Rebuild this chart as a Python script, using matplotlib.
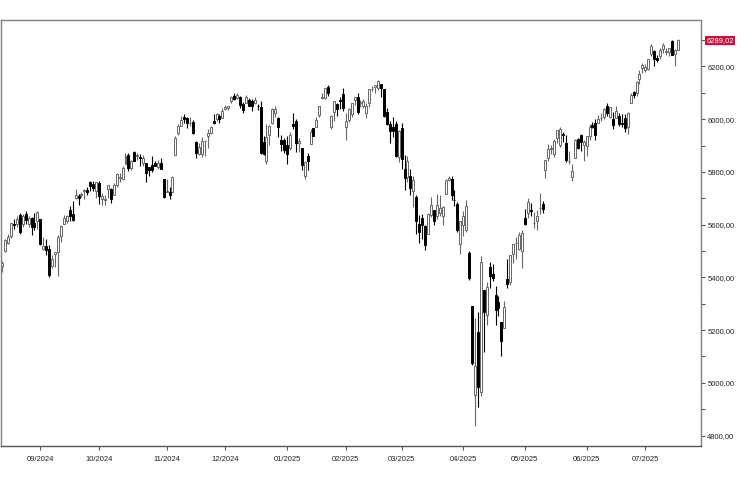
import matplotlib
matplotlib.use("Agg")
import matplotlib.pyplot as plt
import matplotlib.transforms as mtransforms
import numpy as np
import pandas as pd

plt.rcParams['font.family'] = ['Liberation Sans', 'DejaVu Sans']

holidays = ['2024-09-02', '2024-11-28', '2024-12-25', '2025-01-01', '2025-01-09',
            '2025-01-20', '2025-02-17', '2025-04-18', '2025-05-26', '2025-06-19',
            '2025-07-04']

opens = [5376, 5442, 5501, 5530, 5557, 5602, 5603, 5637, 5603, 5639, 5602, 5624, 5607, 5613,
         5623, 5507, 5520, 5507, 5442, 5490, 5496, 5557, 5603, 5615, 5655, 5641, 5703, 5709, 5711, 5727, 5733, 5762, 5755, 5727,
         5758, 5699, 5695, 5737, 5737, 5714, 5751, 5778, 5775, 5829, 5866, 5816, 5875, 5860, 5857, 5833, 5834, 5817, 5827, 5833, 5818, 5833, 5775,
         5723, 5724, 5722, 5864, 5947, 5976, 6008, 6003, 5985, 5990, 5912, 5869, 5868, 5917, 5935, 5949, 5993, 6000, 6014, 6003,
         6040, 6043, 6069, 6089, 6082, 6083, 6057, 6060, 6074, 6068, 6063, 6052, 6048, 5913, 5842, 5940, 5984, 6024, 6006, 5920, 5920,
         5903, 5891, 5982, 5993, 5910, 5890, 5783, 5859, 5905, 5965, 5970, 6015, 6081, 6080, 6121, 5970, 6026, 6058, 6073, 6096,
         5970, 5998, 6021, 6072, 6083, 6060, 6049, 6025, 6061, 6115, 6121, 6118, 6134, 6114, 6027, 5983, 5971, 5982, 5857,
         5968, 5812, 5782, 5785, 5726, 5706, 5603, 5624, 5594, 5563, 5635, 5655, 5632, 5646, 5631, 5718, 5771, 5772, 5695, 5679, 5527,
         5597, 5580, 5492, 5292, 4953, 5194, 4965, 5353, 5256, 5441, 5412, 5335, 5306, 5232, 5207, 5395, 5381, 5489, 5529, 5508, 5499,
         5625, 5645, 5655, 5605, 5614, 5663, 5680, 5808, 5854, 5886, 5869, 5929, 5903, 5945, 5910, 5841, 5781, 5854, 5925, 5939, 5903,
         5897, 5938, 5979, 5985, 5987, 6005, 6009, 6050, 6010, 6000, 6004, 6012, 5985, 6004, 5970, 6062, 6104, 6101, 6151, 6193,
         6187, 6190, 6248, 6259, 6233, 6240, 6265, 6255, 6256, 6295, 6249, 6264]
highs = [5436, 5464, 5546, 5563, 5608, 5621, 5632, 5644, 5642, 5651, 5631, 5628, 5646, 5651,
         5623, 5552, 5546, 5523, 5484, 5497, 5560, 5600, 5637, 5637, 5670, 5690, 5734, 5715, 5725, 5735, 5741, 5767, 5765, 5763,
         5765, 5721, 5714, 5752, 5739, 5757, 5797, 5796, 5823, 5871, 5871, 5846, 5878, 5870, 5867, 5863, 5835, 5817, 5862, 5842, 5847, 5851, 5775,
         5772, 5741, 5783, 5936, 5983, 6012, 6018, 6010, 6008, 5996, 5916, 5909, 5932, 5920, 5964, 5973, 6021, 6025, 6020, 6044,
         6053, 6052, 6089, 6100, 6099, 6089, 6066, 6093, 6079, 6078, 6085, 6057, 6071, 5936, 5982, 5978, 6041, 6049, 6007, 5941, 5930,
         5935, 5950, 6022, 6000, 5928, 5890, 5840, 5871, 5961, 5965, 6007, 6051, 6100, 6119, 6128, 6017, 6070, 6063, 6086, 6120,
         6022, 6042, 6062, 6084, 6101, 6074, 6076, 6063, 6116, 6127, 6129, 6147, 6134, 6114, 6044, 5993, 6009, 5994, 5959,
         5986, 5866, 5860, 5812, 5783, 5711, 5636, 5642, 5598, 5645, 5704, 5655, 5716, 5711, 5672, 5775, 5786, 5783, 5732, 5685, 5615,
         5650, 5695, 5500, 5292, 5247, 5267, 5481, 5353, 5381, 5460, 5450, 5368, 5328, 5232, 5309, 5470, 5485, 5528, 5553, 5572, 5581,
         5658, 5700, 5684, 5649, 5654, 5721, 5691, 5845, 5907, 5904, 5925, 5959, 5969, 5953, 5939, 5878, 5829, 5925, 5930, 5944, 5922,
         5937, 5981, 5990, 5999, 6017, 6022, 6043, 6060, 6046, 6026, 6050, 6024, 6019, 6018, 6029, 6101, 6108, 6146, 6187, 6215,
         6210, 6227, 6284, 6263, 6242, 6270, 6290, 6269, 6272, 6302, 6266, 6304]
lows = [5370, 5419, 5497, 5526, 5551, 5585, 5591, 5565, 5591, 5602, 5593, 5561, 5578, 5584,
        5521, 5503, 5485, 5402, 5434, 5441, 5406, 5535, 5603, 5605, 5614, 5615, 5697, 5674, 5704, 5698, 5714, 5727, 5729, 5703,
        5677, 5676, 5675, 5703, 5683, 5713, 5741, 5763, 5775, 5829, 5804, 5809, 5840, 5847, 5824, 5822, 5762, 5784, 5799, 5823, 5810, 5813, 5703,
        5723, 5696, 5722, 5864, 5940, 5976, 5986, 5965, 5973, 5943, 5854, 5865, 5855, 5860, 5890, 5944, 5981, 5992, 5984, 6003,
        6035, 6034, 6062, 6072, 6076, 6041, 6024, 6060, 6051, 6032, 6059, 6036, 5867, 5866, 5832, 5903, 5983, 6007, 5932, 5880, 5870,
        5830, 5884, 5961, 5877, 5874, 5809, 5773, 5806, 5905, 5935, 5970, 6007, 6076, 6075, 6089, 5962, 5994, 6013, 6040, 6030,
        5923, 5991, 6009, 6055, 6019, 6048, 6043, 6004, 6047, 6107, 6100, 6111, 6084, 6009, 5978, 5908, 5933, 5858, 5837,
        5810, 5732, 5762, 5711, 5667, 5565, 5529, 5547, 5505, 5563, 5628, 5597, 5622, 5633, 5598, 5718, 5764, 5695, 5670, 5572, 5489,
        5558, 5572, 5390, 5069, 4835, 4910, 4950, 5116, 5220, 5359, 5386, 5221, 5255, 5101, 5207, 5360, 5371, 5456, 5468, 5505, 5434,
        5597, 5625, 5632, 5589, 5578, 5640, 5646, 5776, 5840, 5868, 5857, 5911, 5896, 5913, 5839, 5829, 5767, 5854, 5886, 5881, 5843,
        5862, 5921, 5967, 5921, 5987, 5995, 6002, 6013, 6006, 5963, 6004, 5974, 5970, 5952, 5943, 6062, 6080, 6089, 6133, 6175,
        6178, 6185, 6240, 6201, 6218, 6230, 6251, 6243, 6240, 6243, 6201, 6263]
closes = [5434, 5455, 5543, 5554, 5608, 5597, 5621, 5571, 5634, 5616, 5625, 5592, 5591, 5648,
          5528, 5520, 5503, 5408, 5471, 5496, 5554, 5596, 5626, 5633, 5634, 5618, 5714, 5703, 5718, 5732, 5722, 5745, 5738, 5762,
          5709, 5709, 5699, 5751, 5696, 5751, 5792, 5780, 5815, 5859, 5815, 5842, 5841, 5865, 5853, 5851, 5797, 5809, 5808, 5823, 5833, 5813, 5705,
          5728, 5712, 5782, 5929, 5973, 5996, 6001, 5984, 5985, 5949, 5871, 5894, 5917, 5917, 5948, 5969, 5987, 6021, 5999, 6032,
          6047, 6050, 6086, 6075, 6090, 6053, 6034, 6085, 6051, 6051, 6074, 6050, 5872, 5867, 5931, 5974, 6040, 6037, 5970, 5907, 5882,
          5869, 5942, 5975, 5909, 5918, 5827, 5837, 5843, 5950, 5937, 5997, 6049, 6086, 6119, 6101, 6012, 6068, 6039, 6071, 6041,
          5994, 6038, 6061, 6083, 6026, 6066, 6068, 6052, 6115, 6115, 6129, 6144, 6117, 6013, 5983, 5955, 5956, 5861, 5955,
          5849, 5778, 5843, 5739, 5770, 5615, 5572, 5599, 5522, 5639, 5675, 5615, 5675, 5663, 5668, 5768, 5777, 5712, 5693, 5581, 5612,
          5633, 5671, 5397, 5074, 5062, 4983, 5457, 5268, 5363, 5406, 5397, 5276, 5283, 5158, 5288, 5376, 5485, 5525, 5529, 5561, 5569,
          5604, 5687, 5650, 5607, 5631, 5664, 5660, 5844, 5886, 5892, 5917, 5958, 5964, 5940, 5845, 5842, 5803, 5922, 5889, 5912, 5912,
          5936, 5970, 5971, 5939, 6000, 6006, 6038, 6022, 6045, 5977, 6033, 5983, 5981, 5967, 6025, 6092, 6092, 6141, 6173, 6205,
          6198, 6227, 6279, 6230, 6226, 6263, 6280, 6260, 6269, 6244, 6264, 6299.02]

month_labels = ['09/2024', '10/2024', '11/2024', '12/2024', '01/2025', '02/2025',
                '03/2025', '04/2025', '05/2025', '06/2025', '07/2025']
y_ticks = [4800, 5000, 5200, 5400, 5600, 5800, 6000, 6200]
last_price_label = '6299,02'

dates = pd.bdate_range('2024-08-13', '2025-07-17')
dates = dates[~dates.isin(pd.to_datetime(holidays))]
n = min(len(dates), len(opens), len(highs), len(lows), len(closes))
dates = dates[:n]
o = np.array(opens[:n], float)
h = np.array(highs[:n], float)
l = np.array(lows[:n], float)
c = np.array(closes[:n], float)
idx = np.arange(n)

W, H = 752, 479
fig = plt.figure(figsize=(W / 100, H / 100), dpi=100)
ax = fig.add_axes([1 / W, 33.5 / H, 700 / W, 425.5 / H])

up = c >= o
up_edge = '#666666'
# wicks
ax.vlines(idx[up], l[up], h[up], colors=up_edge, linewidth=0.8, zorder=1)
ax.vlines(idx[~up], l[~up], h[~up], colors='black', linewidth=0.8, zorder=1)
# bodies
bw = 0.68
body_bottom = np.minimum(o, c)
body_h = np.maximum(np.abs(c - o), 1.5)
ax.bar(idx[up], body_h[up], bottom=body_bottom[up], width=bw, color='white',
       edgecolor=up_edge, linewidth=0.7, zorder=2)
ax.bar(idx[~up], body_h[~up], bottom=body_bottom[~up], width=bw, color='black',
       edgecolor='black', linewidth=0.7, zorder=2)

ax.set_xlim(0.61, 238.95)
ax.set_ylim(4762.2, 6376.4)

# x ticks at first trading day of each month
months = dates.to_period('M')
first_idx = [i for i in range(1, n) if months[i] != months[i - 1]]
ax.set_xticks(first_idx[:len(month_labels)])
ax.set_xticklabels(month_labels[:len(first_idx)])

ax.yaxis.tick_right()
ax.set_yticks(y_ticks)
ax.set_yticklabels([f'{v},00' for v in y_ticks])
ax.set_yticks([v + 100 for v in y_ticks[:-1]] + [6300], minor=True)

ax.tick_params(axis='both', which='both', direction='out', length=3, width=0.8,
               color='#555555', labelsize=5.5, labelcolor='#222222', pad=1.5)
ax.tick_params(axis='x', pad=4.5)
ax.tick_params(axis='y', which='minor', length=3)

for side in ['left', 'right', 'top', 'bottom']:
    ax.spines[side].set_color('#808080')
    ax.spines[side].set_linewidth(1.0)
ax.spines['bottom'].set_color('#555555')

# last price label
trans = mtransforms.blended_transform_factory(ax.transAxes, ax.transData)
ax.text(1.0075, c[-1], last_price_label, transform=trans, fontsize=5.5, color='white',
        va='center', ha='left',
        bbox=dict(boxstyle='square,pad=0.15', facecolor='#d0103a', edgecolor='none'))

fig.savefig('out.png', dpi=100)
